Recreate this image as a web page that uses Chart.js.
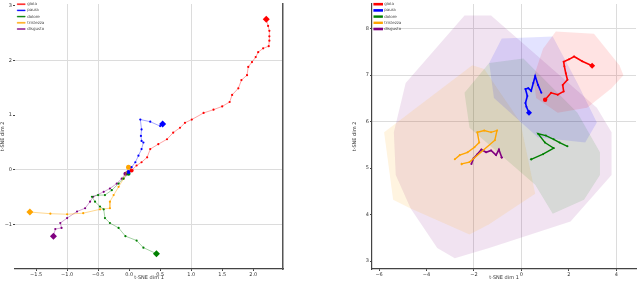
<!DOCTYPE html>
<html>
<head>
<meta charset="utf-8">
<script src="https://cdn.jsdelivr.net/npm/chart.js@4.4.1/dist/chart.umd.min.js"></script>
<style>
html, body { margin: 0; padding: 0; background: #fff; width: 640px; height: 281px; overflow: hidden; }
canvas { position: absolute; top: 0; }
#left { left: 0; }
#right { left: 352px; }
</style>
</head>
<body>
<canvas id="left" width="290" height="281"></canvas>
<canvas id="right" width="288" height="281"></canvas>
<script>
const seriesNames = ["gioia", "paura", "dolore", "tristezza", "disgusto"];

// left panel: trajectories from the common start
const redLeft = [[0.04, -0.01], [0.12, 0.08], [0.20, 0.14], [0.29, 0.23], [0.34, 0.38], [0.47, 0.47], [0.61, 0.56], [0.71, 0.68], [0.82, 0.77], [0.90, 0.86], [1.01, 0.92], [1.20, 1.04], [1.36, 1.10], [1.50, 1.16], [1.62, 1.24], [1.66, 1.37], [1.76, 1.49], [1.81, 1.64], [1.90, 1.73], [1.92, 1.88], [1.98, 1.97], [2.04, 2.06], [2.08, 2.15], [2.16, 2.22], [2.25, 2.26], [2.26, 2.36], [2.26, 2.44], [2.26, 2.54], [2.24, 2.63], [2.21, 2.75]];
const blueLeft = [[-0.01, -0.04], [0.04, 0.05], [0.10, 0.14], [0.15, 0.26], [0.20, 0.38], [0.23, 0.50], [0.20, 0.53], [0.19, 0.62], [0.20, 0.74], [0.18, 0.92], [0.34, 0.88], [0.50, 0.80], [0.54, 0.84]];
const greenLeft = [[-0.01, -0.07], [-0.09, -0.16], [-0.17, -0.25], [-0.28, -0.37], [-0.39, -0.46], [-0.50, -0.46], [-0.60, -0.49], [-0.55, -0.58], [-0.47, -0.67], [-0.41, -0.72], [-0.39, -0.88], [-0.31, -0.97], [-0.17, -1.06], [-0.06, -1.21], [0.12, -1.29], [0.23, -1.42], [0.44, -1.53]];
const orangeLeft = [[-0.01, 0.05], [-0.04, -0.04], [-0.09, -0.16], [-0.17, -0.31], [-0.25, -0.46], [-0.31, -0.58], [-0.31, -0.70], [-0.47, -0.72], [-0.74, -0.79], [-1.00, -0.81], [-1.27, -0.80], [-1.60, -0.77]];
const purpleLeft = [[-0.06, -0.07], [-0.12, -0.16], [-0.20, -0.25], [-0.31, -0.34], [-0.41, -0.40], [-0.58, -0.49], [-0.63, -0.58], [-0.71, -0.70], [-0.84, -0.76], [-1.00, -0.88], [-1.11, -0.97], [-1.09, -1.06], [-1.19, -1.08], [-1.22, -1.21]];

// right panel: trajectories
const redRight = [[1.00, 6.47], [1.25, 6.62], [1.53, 6.58], [1.78, 6.65], [1.74, 6.79], [1.94, 6.90], [1.87, 7.04], [1.81, 7.19], [1.78, 7.29], [2.01, 7.34], [2.22, 7.40], [2.56, 7.30], [2.98, 7.20]];
const blueRight = [[0.84, 6.62], [0.70, 6.79], [0.58, 6.98], [0.50, 6.83], [0.41, 6.66], [0.29, 6.72], [0.17, 6.70], [0.25, 6.55], [0.17, 6.40], [0.21, 6.32], [0.32, 6.19]];
const greenRight = [[1.94, 5.47], [1.61, 5.55], [1.36, 5.62], [1.03, 5.70], [0.70, 5.74], [0.99, 5.55], [1.36, 5.43], [0.91, 5.30], [0.41, 5.19]];
const orangeRight = [[-2.81, 5.19], [-2.60, 5.28], [-2.27, 5.34], [-1.98, 5.45], [-1.78, 5.55], [-1.86, 5.77], [-1.57, 5.81], [-1.28, 5.77], [-1.03, 5.81], [-1.12, 5.60], [-2.19, 5.13], [-2.52, 5.09]];
const purpleRight = [[-2.11, 5.09], [-2.02, 5.21], [-1.86, 5.30], [-1.69, 5.40], [-1.49, 5.34], [-1.28, 5.38], [-1.07, 5.28], [-0.95, 5.40], [-0.83, 5.23]];

// right panel: convex hulls
const redHull = [[1.45, 7.94], [3.06, 7.89], [4.13, 7.21], [4.30, 7.00], [3.80, 6.72], [2.77, 6.30], [1.53, 6.19], [0.62, 6.51], [0.50, 6.94], [0.91, 7.57]];
const blueHull = [[-0.83, 7.79], [1.32, 7.83], [2.36, 6.83], [3.18, 5.98], [2.69, 5.55], [0.70, 5.66], [-1.16, 6.51], [-1.36, 7.26]];
const greenHull = [[-1.36, 7.26], [0.08, 7.36], [2.36, 6.19], [3.31, 5.34], [3.31, 4.85], [2.64, 4.32], [1.32, 4.02], [0.58, 4.64], [-2.19, 5.87], [-2.40, 6.62]];
const orangeHull = [[-2.07, 7.21], [-1.57, 7.13], [-0.04, 5.98], [0.58, 4.45], [-1.36, 3.79], [-2.19, 3.57], [-4.67, 4.13], [-5.41, 4.32], [-5.79, 5.77]];
const purpleHull = [[-2.40, 8.28], [-1.28, 8.28], [3.18, 6.30], [3.80, 5.77], [3.80, 4.85], [2.07, 3.85], [-1.36, 3.28], [-2.81, 3.06], [-3.55, 3.28], [-4.67, 4.13], [-5.30, 4.85], [-5.38, 5.77], [-4.88, 6.83]];

const xTicksLeft = [-1.5, -1.0, -0.5, 0.0, 0.5, 1.0, 1.5, 2.0];
const yTicksLeft = [-1, 0, 1, 2, 3];
const xTicksRight = [-6, -4, -2, 0, 2, 4];
const yTicksRight = [3, 4, 5, 6, 7, 8];

const colors = ["#ff0000", "#0000ff", "#008000", "#ffa500", "#800080"];
const faded = ["rgba(255,0,0,0.45)", "rgba(0,0,255,0.45)", "rgba(0,128,0,0.45)", "rgba(255,165,0,0.55)", "rgba(128,0,128,0.45)"];
const hullFill = ["rgba(255,0,0,0.11)", "rgba(0,0,255,0.11)", "rgba(0,128,0,0.11)", "rgba(255,165,0,0.12)", "rgba(128,0,128,0.11)"];

const font = { family: "DejaVu Sans", size: 5 };
const minus = v => v < 0 ? "\u2212" + Math.abs(v) : String(v);

function trail(i, pts, line, width, dot, start, end) {
    const last = pts.length - 1;
    return {
        label: seriesNames[i],
        data: pts.map(p => ({ x: p[0], y: p[1] })),
        showLine: true,
        tension: 0,
        borderColor: line,
        borderWidth: width,
        backgroundColor: colors[i],
        pointBackgroundColor: colors[i],
        pointBorderWidth: 0,
        pointStyle: c => c.dataIndex === last ? "rectRot" : "circle",
        pointRadius: c => c.dataIndex === last ? end : (c.dataIndex === 0 ? start : dot),
        order: 0
    };
}

function hull(i, pts) {
    return {
        label: "",
        data: pts.concat([pts[0]]).map(p => ({ x: p[0], y: p[1] })),
        showLine: true,
        tension: 0,
        fill: "shape",
        backgroundColor: hullFill[i],
        borderColor: "rgba(0,0,0,0)",
        borderWidth: 0,
        pointRadius: 0,
        order: 5
    };
}

function axis(min, max, ticks, gridAt, fmt, title, fitSize, horizontal, showBorder) {
    return {
        type: "linear",
        min: min,
        max: max,
        afterBuildTicks: s => { s.ticks = ticks.map(v => ({ value: v })); },
        afterFit: s => { if (horizontal) s.height = fitSize; else s.width = fitSize; },
        ticks: { font: font, color: "#333", padding: 1, maxRotation: 0, autoSkip: false, callback: fmt },
        grid: {
            color: c => c.tick && gridAt.includes(c.tick.value) ? "#dcdcdc" : "rgba(0,0,0,0)",
            tickColor: "#444",
            tickLength: 2,
            lineWidth: 1
        },
        border: { display: showBorder, color: "#444", width: 1.2 },
        title: { display: true, text: title, font: font, color: "#333", padding: 0 }
    };
}

function legend() {
    return {
        position: "chartArea",
        align: "start",
        labels: {
            font: { family: "DejaVu Sans", size: 4 },
            color: "#444",
            boxWidth: 8,
            boxHeight: 1,
            padding: 2.2,
            filter: item => item.text !== ""
        }
    };
}

new Chart(document.getElementById("left"), {
    type: "scatter",
    data: {
        datasets: [
            trail(0, redLeft, faded[0], 0.8, 1.1, 2, 3.5),
            trail(1, blueLeft, faded[1], 0.8, 1.1, 2, 3.5),
            trail(2, greenLeft, faded[2], 0.8, 1.1, 2, 3.5),
            trail(3, orangeLeft, faded[3], 0.8, 1.1, 2.5, 3.5),
            trail(4, purpleLeft, faded[4], 0.8, 1.1, 2, 3.5)
        ]
    },
    options: {
        responsive: false,
        animation: false,
        devicePixelRatio: 1,
        layout: { padding: { top: 0, right: 7, bottom: 0, left: 0 } },
        plugins: { legend: legend(), tooltip: { enabled: false } },
        scales: {
            x: axis(-1.84, 2.48, xTicksLeft, [-1.0, -0.5, 1.0], v => (v < 0 ? "\u2212" : "") + Math.abs(v).toFixed(1), "t-SNE dim 1", 12, true, true),
            y: axis(-1.81, 3.03, yTicksLeft, [-1, 0, 2], minus, "t-SNE dim 2", 15, false, false),
            edge: {
                type: "linear",
                position: "right",
                min: 0,
                max: 1,
                afterFit: s => { s.width = 0; },
                ticks: { display: false },
                grid: { drawOnChartArea: false, drawTicks: false },
                border: { display: true, color: "#555", width: 1.5 }
            }
        }
    }
});

new Chart(document.getElementById("right"), {
    type: "scatter",
    data: {
        datasets: [
            trail(0, redRight, colors[0], 1.6, 1, 2.2, 3),
            trail(1, blueRight, colors[1], 1.6, 1, 1, 3),
            trail(2, greenRight, colors[2], 1.4, 1, 1, 1.5),
            trail(3, orangeRight, colors[3], 1.4, 1, 1, 1.5),
            trail(4, purpleRight, colors[4], 1.6, 1, 1, 1.5),
            hull(0, redHull),
            hull(1, blueHull),
            hull(2, greenHull),
            hull(3, orangeHull),
            hull(4, purpleHull)
        ]
    },
    options: {
        responsive: false,
        animation: false,
        devicePixelRatio: 1,
        layout: { padding: 0 },
        plugins: { legend: legend(), tooltip: { enabled: false } },
        scales: {
            x: axis(-6.3, 4.83, xTicksRight, [-2, 0, 4], minus, "t-SNE dim 1", 12, true, true),
            y: axis(2.83, 8.53, yTicksRight, [6, 7, 8], minus, "t-SNE dim 2", 20, false, true)
        }
    }
});
</script>
</body>
</html>
